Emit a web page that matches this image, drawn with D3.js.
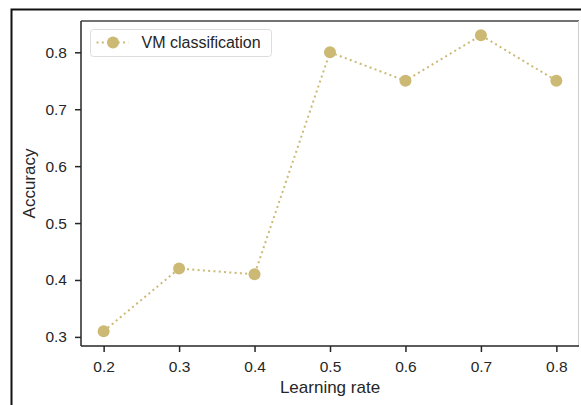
<!DOCTYPE html>
<html>
<head>
<meta charset="utf-8">
<script src="https://cdn.jsdelivr.net/npm/d3@7"></script>
<style>
  body { margin: 0; background: #fff; }
  text { font-family: "Liberation Sans", Arial, sans-serif; fill: #262626; }
</style>
</head>
<body>
<div id="chart"></div>
<script>
// data
const learningRates = [0.2, 0.3, 0.4, 0.5, 0.6, 0.7, 0.8];
const accuracy = [0.31, 0.42, 0.41, 0.80, 0.75, 0.83, 0.75];
const xTicks = [0.2, 0.3, 0.4, 0.5, 0.6, 0.7, 0.8];
const yTicks = [0.3, 0.4, 0.5, 0.6, 0.7, 0.8];
const seriesName = "VM classification";

const width = 581, height = 405;
const margin = { top: 21, right: 2, bottom: 59, left: 81 };
const colour = "#ccb974";

const svg = d3.select("#chart").append("svg")
  .attr("width", width)
  .attr("height", height);

// outer frame of the figure
svg.append("rect")
  .attr("x", 11.5).attr("y", 9.5)
  .attr("width", width + 20).attr("height", height + 20)
  .style("fill", "none").style("stroke", "#111").style("stroke-width", 2);

let x = d3.scaleLinear()
  .domain([0.17, 0.83])
  .range([margin.left, width - margin.right]);

let y = d3.scaleLinear()
  .domain([0.284, 0.855])
  .range([height - margin.bottom, margin.top]);

// spines
svg.append("line")
  .attr("x1", x.range()[0]).attr("x2", x.range()[1])
  .attr("y1", margin.top).attr("y2", margin.top)
  .style("stroke", "#444").style("stroke-width", 1.5);
svg.append("line")
  .attr("x1", width - margin.right - 0.5).attr("x2", width - margin.right - 0.5)
  .attr("y1", margin.top).attr("y2", height - margin.bottom)
  .style("stroke", "#ccc").style("stroke-width", 1);

const xAxis = d3.axisBottom(x)
  .tickValues(xTicks)
  .tickSize(6)
  .tickPadding(9)
  .tickFormat(d3.format(".1f"));

const yAxis = d3.axisLeft(y)
  .tickValues(yTicks)
  .tickSize(6)
  .tickPadding(8)
  .tickFormat(d3.format(".1f"));

const gx = svg.append("g")
  .attr("transform", `translate(0, ${height - margin.bottom})`)
  .call(xAxis);
const gy = svg.append("g")
  .attr("transform", `translate(${margin.left}, 0)`)
  .call(yAxis);

[gx, gy].forEach(g => {
  g.select(".domain").style("stroke", "#262626").style("stroke-width", 1.5);
  g.selectAll(".tick line").style("stroke", "#262626").style("stroke-width", 1.5);
  g.selectAll(".tick text")
    .style("font-family", "'Liberation Sans', Arial, sans-serif")
    .style("font-size", "15.5px").style("fill", "#262626");
});
gx.select(".domain").attr("d", `M${x.range()[0]},0H${x.range()[1]}`);
gy.select(".domain").attr("d", `M0,${y.range()[0]}V${y.range()[1]}`);

// axis titles
svg.append("text")
  .attr("x", (x.range()[0] + x.range()[1]) / 2)
  .attr("y", 393)
  .style("text-anchor", "middle")
  .style("font-size", "17px")
  .text("Learning rate");

svg.append("text")
  .attr("transform", `translate(35, ${(y.range()[0] + y.range()[1]) / 2}) rotate(-90)`)
  .style("text-anchor", "middle")
  .style("font-size", "17px")
  .text("Accuracy");

// the series
const pts = learningRates.map((d, i) => ({ lr: d, acc: accuracy[i] }));

const line = d3.line()
  .x(d => x(d.lr))
  .y(d => y(d.acc));

svg.append("path")
  .datum(pts)
  .attr("d", line)
  .style("fill", "none")
  .style("stroke", colour)
  .style("stroke-width", 2)
  .style("stroke-dasharray", "2,3.3");

svg.selectAll("circle.pt")
  .data(pts)
  .enter()
  .append("circle")
  .attr("class", "pt")
  .attr("cx", d => x(d.lr))
  .attr("cy", d => y(d.acc))
  .attr("r", 6)
  .style("fill", colour);

// legend
const legend = svg.append("g").attr("transform", "translate(90.5, 29.5)");
legend.append("rect")
  .attr("width", 181).attr("height", 27).attr("rx", 3)
  .style("fill", "#fff").style("stroke", "#ddd");
legend.append("line")
  .attr("x1", 6).attr("x2", 38).attr("y1", 13).attr("y2", 13)
  .style("stroke", colour).style("stroke-width", 2)
  .style("stroke-dasharray", "2,3.3");
legend.append("circle")
  .attr("cx", 22.5).attr("cy", 13).attr("r", 6)
  .style("fill", colour);
legend.append("text")
  .attr("x", 51).attr("y", 18.5)
  .style("font-size", "16px")
  .text(seriesName);
</script>
</body>
</html>
